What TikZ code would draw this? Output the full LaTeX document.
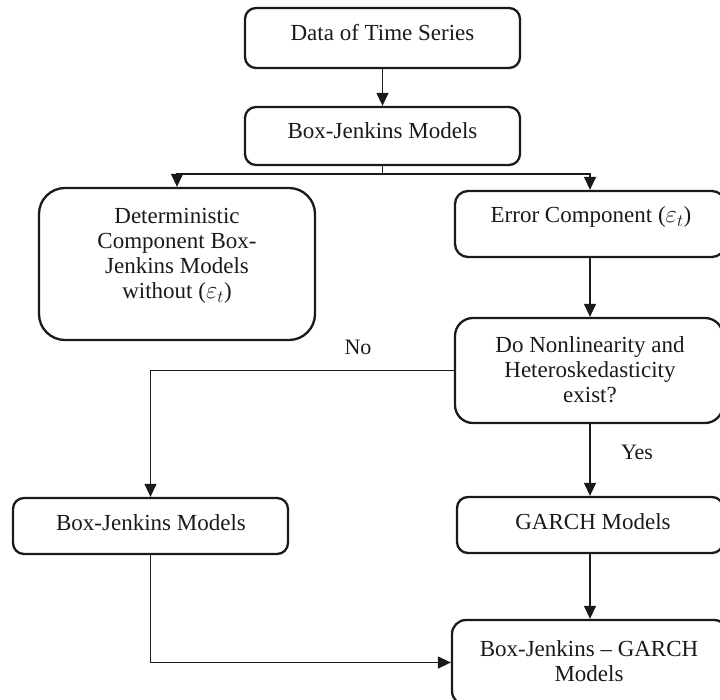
\documentclass[tikz,border=0pt]{standalone}
\usepackage{fontspec}
\setmainfont{Liberation Serif}
\usetikzlibrary{arrows.meta,calc}
\definecolor{ink}{HTML}{1A1A1A}
\tikzset{
  box/.style={draw=ink, line width=2.3pt, rounded corners=11pt, inner sep=0pt},
  txt/.style={text=ink, font=\fontsize{23}{25}\selectfont, align=center, inner sep=0pt},
  conn/.style={draw=ink, line width=1.3pt, -{Triangle[width=12pt,length=13pt]}},
  plain/.style={draw=ink, line width=1.3pt},
  lbl/.style={text=ink, font=\fontsize{22}{24}\selectfont, inner sep=0pt}
}
\begin{document}
\begin{tikzpicture}[x=1pt,y=-1pt]
\useasboundingbox (0,0) rectangle (720,700);
\clip (0,0) rectangle (720,700);
\fill[white] (0,0) rectangle (720,700);
% boxes
\node[box, minimum width=275pt, minimum height=60pt] (b1) at (382.5,38) {};
\node[box, minimum width=275pt, minimum height=58pt] (b2) at (382.5,136) {};
\node[box, rounded corners=26pt, minimum width=276pt, minimum height=152pt] (det) at (177,264) {};
\node[box, rounded corners=13pt, minimum width=270pt, minimum height=66pt] (err) at (590,224) {};
\node[box, rounded corners=18pt, minimum width=268pt, minimum height=105pt] (dec) at (589,370.5) {};
\node[box, minimum width=275pt, minimum height=56pt] (bjl) at (150.5,526) {};
\node[box, minimum width=266pt, minimum height=56pt] (garch) at (590,525) {};
\node[box, rounded corners=14pt, minimum width=276pt, minimum height=85pt] (fin) at (590,662.5) {};
% texts
\node[txt] (t1) at (382.5,33) {Data of Time Series};
\node[txt] (t2) at (382.5,131) {Box-Jenkins Models};
\node[txt] (tdet) at (177,256) {Deterministic\\Component Box-\\Jenkins Models\\without ($\varepsilon_t$)};
\node[txt] (terr) at (591,217) {Error Component ($\varepsilon_t$)};
\node[txt] (tdec) at (590,370) {Do Nonlinearity and\\Heteroskedasticity\\exist?};
\node[txt] (tbjl) at (151,523) {Box-Jenkins Models};
\node[txt] (tgarch) at (593,522) {GARCH Models};
\node[txt] (tfin) at (589,661) {Box-Jenkins -- GARCH\\Models};
% labels
\node[lbl] (no) at (358,347) {No};
\node[lbl] (yes) at (637,452) {Yes};
% connectors
\coordinate (split) at (382.5,174);
\draw[conn] (b1) -- (b2);
\draw[plain] (b2.south) -- (split);
\draw[conn] (split) -| (det.north);
\draw[conn] (split) -| (err.north);
\draw[conn] (err.south) -- (err.south |- dec.north);
\draw[conn] (dec.west) -| (bjl.north);
\draw[conn] (dec.south -| garch.north) -- (garch.north);
\draw[conn] (garch.south) -- (fin.north);
\draw[conn] (bjl.south) |- (fin.west);
\end{tikzpicture}
\end{document}
